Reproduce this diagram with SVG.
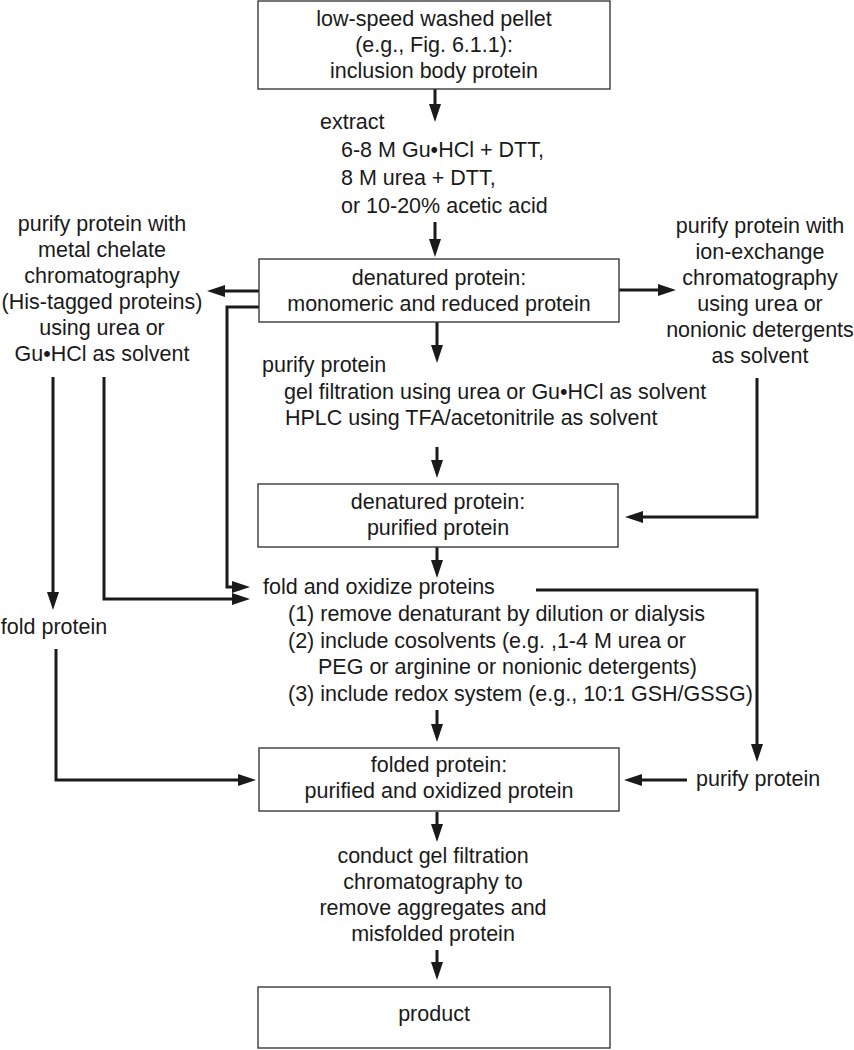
<svg xmlns="http://www.w3.org/2000/svg" width="854" height="1050" viewBox="0 0 854 1050">
<style>
  text { font-family: "Liberation Sans", Arial, sans-serif; font-size: 21.5px; fill: #1a1a1a; }
  .c { text-anchor: middle; }
  .box { fill: #ffffff; stroke: #3a3a3a; stroke-width: 1.4; }
  .conn { fill: none; stroke: #1a1a1a; stroke-width: 3; stroke-linejoin: miter; }
</style>
<defs>
  <marker id="ah" markerUnits="userSpaceOnUse" markerWidth="18" markerHeight="12" refX="8" refY="6" orient="auto">
    <path d="M0,0 L18,6 L0,12 z" fill="#1a1a1a"/>
  </marker>
</defs>
<rect width="854" height="1050" fill="#ffffff"/>

<g id="connectors">
  <path class="conn" marker-end="url(#ah)" d="M435,89 V112"/>
  <path class="conn" marker-end="url(#ah)" d="M435,222 V247"/>
  <path class="conn" marker-end="url(#ah)" d="M259,291 H217"/>
  <path class="conn" marker-end="url(#ah)" d="M619,290 H666"/>
  <path class="conn" marker-end="url(#ah)" d="M259,307 H227 V587 H240"/>
  <path class="conn" marker-end="url(#ah)" d="M437,322 V353"/>
  <path class="conn" marker-end="url(#ah)" d="M437,447 V468"/>
  <path class="conn" marker-end="url(#ah)" d="M757,378 V517 H635"/>
  <path class="conn" marker-end="url(#ah)" d="M437,547 V568"/>
  <path class="conn" marker-end="url(#ah)" d="M53,377 V600"/>
  <path class="conn" marker-end="url(#ah)" d="M104,377 V599 H240"/>
  <path class="conn" marker-end="url(#ah)" d="M56,649 V780 H246"/>
  <path class="conn" marker-end="url(#ah)" d="M536,590 H757 V752"/>
  <path class="conn" marker-end="url(#ah)" d="M687,780 H634"/>
  <path class="conn" marker-end="url(#ah)" d="M437,710 V732"/>
  <path class="conn" marker-end="url(#ah)" d="M437,812 V832"/>
  <path class="conn" marker-end="url(#ah)" d="M437,950 V970"/>
</g>

<g id="pellet">
  <rect class="box" x="258" y="1" width="352" height="88"/>
  <text class="c" x="434" y="26">low-speed washed pellet</text>
  <text class="c" x="434" y="52">(e.g., Fig. 6.1.1):</text>
  <text class="c" x="434" y="78">inclusion body protein</text>
</g>

<g id="extract">
  <text x="320" y="129">extract</text>
  <text x="341" y="157">6-8 M Gu•HCl + DTT,</text>
  <text x="341" y="185">8 M urea + DTT,</text>
  <text x="341" y="213">or 10-20% acetic acid</text>
</g>

<g id="denatured-reduced">
  <rect class="box" x="259" y="259" width="360" height="63"/>
  <text class="c" x="439" y="285">denatured protein:</text>
  <text class="c" x="439" y="311">monomeric and reduced protein</text>
</g>

<g id="metal-chelate">
  <text class="c" x="102" y="231">purify protein with</text>
  <text class="c" x="102" y="257">metal chelate</text>
  <text class="c" x="102" y="283">chromatography</text>
  <text class="c" x="102" y="309">(His-tagged proteins)</text>
  <text class="c" x="102" y="335">using urea or</text>
  <text class="c" x="102" y="361">Gu•HCl as solvent</text>
</g>

<g id="ion-exchange">
  <text class="c" x="760" y="233">purify protein with</text>
  <text class="c" x="760" y="259">ion-exchange</text>
  <text class="c" x="760" y="285">chromatography</text>
  <text class="c" x="760" y="311">using urea or</text>
  <text class="c" x="760" y="337">nonionic detergents</text>
  <text class="c" x="760" y="363">as solvent</text>
</g>

<g id="purify-step">
  <text x="262" y="372">purify protein</text>
  <text x="284" y="399">gel filtration using urea or Gu•HCl as solvent</text>
  <text x="285" y="425">HPLC using TFA/acetonitrile as solvent</text>
</g>

<g id="denatured-purified">
  <rect class="box" x="258" y="484" width="360" height="63"/>
  <text class="c" x="438" y="509">denatured protein:</text>
  <text class="c" x="438" y="535">purified protein</text>
</g>

<g id="fold-oxidize">
  <text x="263" y="594">fold and oxidize proteins</text>
  <text x="288" y="621">(1) remove denaturant by dilution or dialysis</text>
  <text x="288" y="648">(2) include cosolvents (e.g. ,1-4 M urea or</text>
  <text x="318" y="674">PEG or arginine or nonionic detergents)</text>
  <text x="288" y="701">(3) include redox system (e.g., 10:1 GSH/GSSG)</text>
</g>

<g id="fold-protein">
  <text class="c" x="54" y="634">fold protein</text>
</g>

<g id="folded">
  <rect class="box" x="259" y="748" width="360" height="63"/>
  <text class="c" x="439" y="772">folded protein:</text>
  <text class="c" x="439" y="798">purified and oxidized protein</text>
</g>

<g id="purify-right">
  <text x="696" y="786">purify protein</text>
</g>

<g id="gel-filtration">
  <text class="c" x="433" y="863">conduct gel filtration</text>
  <text class="c" x="433" y="889">chromatography to</text>
  <text class="c" x="433" y="915">remove aggregates and</text>
  <text class="c" x="433" y="941">misfolded protein</text>
</g>

<g id="product">
  <rect class="box" x="258" y="987" width="352" height="61"/>
  <text class="c" x="434" y="1021">product</text>
</g>
</svg>
